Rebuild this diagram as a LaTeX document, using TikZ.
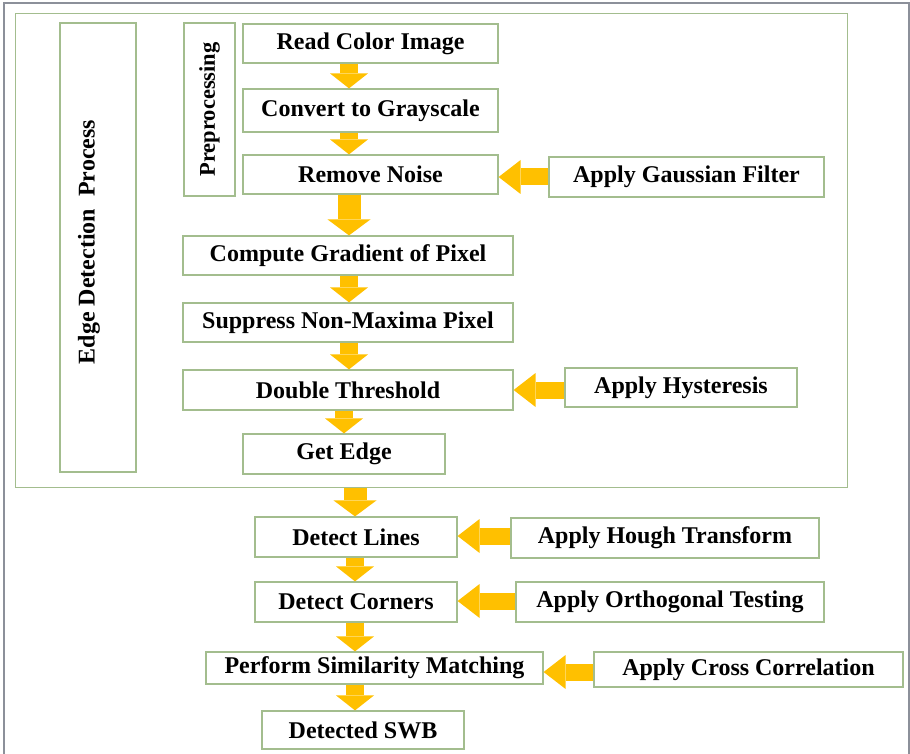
\documentclass[tikz,border=0pt]{standalone}
\usepackage{fontspec}
\setmainfont{Liberation Serif}
\usetikzlibrary{arrows.meta}
\definecolor{boxgreen}{HTML}{A3BD8E}
\definecolor{framegray}{HTML}{8C909A}
\definecolor{gold}{HTML}{FFC000}
\newcommand{\stagefont}{\bfseries\fontsize{24}{26}\selectfont}
\tikzset{
  stage/.style={draw=boxgreen, line width=1.2pt, fill=white, inner sep=0pt,
    font=\stagefont},
  downarr/.style={draw=gold, line width=18pt,
    -{Triangle[width=38pt,length=15pt,line width=0pt]}},
  bigdown/.style={draw=gold, line width=23pt,
    -{Triangle[width=43pt,length=16pt,line width=0pt]}},
  sidearr/.style={draw=gold, line width=17pt,
    -{Triangle[width=34pt,length=22pt,line width=0pt]}}
}

\begin{document}
\begin{tikzpicture}[x=1pt,y=-1pt]
  \useasboundingbox (0,0) rectangle (910,754);

  \draw[framegray, line width=2pt] (4,754) -- (4,3) -- (909,3) -- (909,754);

  \node[draw=boxgreen, line width=1.2pt, inner sep=0pt, anchor=north west,
    minimum width=832pt, minimum height=474pt] (frame) at (15,13) {};
  \node[draw=boxgreen, line width=1.2pt, inner sep=0pt,
    minimum width=76pt, minimum height=449pt] (edgebox) at (98,247.5) {};
  \node[rotate=90, inner sep=0pt, font=\stagefont] (edgelabel) at (89,242)
    {Edge Detection\ \ Process};
  \node[stage, rotate=90, minimum width=173pt, minimum height=51pt,
    font=\bfseries\fontsize{22.5}{24}\selectfont] (prep) at (209.5,109.5)
    {Preprocessing};

  %% main column
  \node[stage, minimum width=255pt, minimum height=39pt] (read) at (370.5,43.5) {Read Color Image};
  \node[stage, minimum width=255pt, minimum height=43pt] (gray) at (370.5,110.5) {Convert to Grayscale};
  \node[stage, minimum width=255pt, minimum height=39pt] (noise) at (370.5,174.5) {Remove Noise};
  \node[stage, minimum width=330pt, minimum height=39pt] (grad) at (348,255.5) {Compute Gradient of Pixel};
  \node[stage, minimum width=330pt, minimum height=39pt] (supp) at (348,322.5) {Suppress Non-Maxima Pixel};
  \node[stage, minimum width=330pt, minimum height=40pt] (thresh) at (348,390) {Double Threshold};
  \node[stage, minimum width=202pt, minimum height=40pt] (edge) at (344,454) {Get Edge};
  \node[stage, minimum width=202pt, minimum height=40pt] (lines) at (356,537) {Detect Lines};
  \node[stage, minimum width=202pt, minimum height=40pt] (corners) at (356,602) {Detect Corners};
  \node[stage, minimum width=337pt, minimum height=32pt] (match) at (374.5,668) {Perform Similarity Matching};
  \node[stage, minimum width=202pt, minimum height=38pt] (swb) at (363,730) {Detected SWB};

  %% side inputs
  \node[stage, minimum width=275pt, minimum height=40pt] (gauss) at (686.5,177) {Apply Gaussian Filter};
  \node[stage, minimum width=232pt, minimum height=39pt] (hyst) at (681,387.5) {Apply Hysteresis};
  \node[stage, minimum width=308pt, minimum height=40pt] (hough) at (665,538) {Apply Hough Transform};
  \node[stage, minimum width=308pt, minimum height=40pt] (ortho) at (670,602) {Apply Orthogonal Testing};
  \node[stage, minimum width=309pt, minimum height=35pt] (cross) at (748.5,669.5) {Apply Cross Correlation};

  \coordinate (upper) at (349,0);
  \coordinate (lower) at (355,0);

  \draw[downarr] (read.south -| upper) -- (gray.north -| upper);
  \draw[downarr] (gray.south -| upper) -- (noise.north -| upper);
  \draw[bigdown] (noise.south -| upper) -- (grad.north -| upper);
  \draw[downarr] (grad.south -| upper) -- (supp.north -| upper);
  \draw[downarr] (supp.south -| upper) -- (thresh.north -| upper);
  \draw[downarr] (thresh.south -| edge) -- (edge.north);
  \draw[bigdown] (frame.south -| lower) -- (lines.north -| lower); %% edge -> lines
  \draw[downarr] (lines.south -| lower) -- (corners.north -| lower);
  \draw[downarr] (corners.south -| lower) -- (match.north -| lower);
  \draw[downarr] (match.south -| lower) -- (swb.north -| lower);

  \draw[sidearr] (gauss.west) -- (gauss.west -| noise.east);
  \draw[sidearr] ([yshift=-2.5pt]hyst.west) -- ([yshift=-2.5pt]hyst.west -| thresh.east);
  \draw[sidearr] ([yshift=2pt]hough.west) -- ([yshift=2pt]hough.west -| lines.east);
  \draw[sidearr] ([yshift=1pt]ortho.west) -- ([yshift=1pt]ortho.west -| corners.east);
  \draw[sidearr] ([yshift=-2.5pt]cross.west) -- ([yshift=-2.5pt]cross.west -| match.east);

\end{tikzpicture}
\end{document}
